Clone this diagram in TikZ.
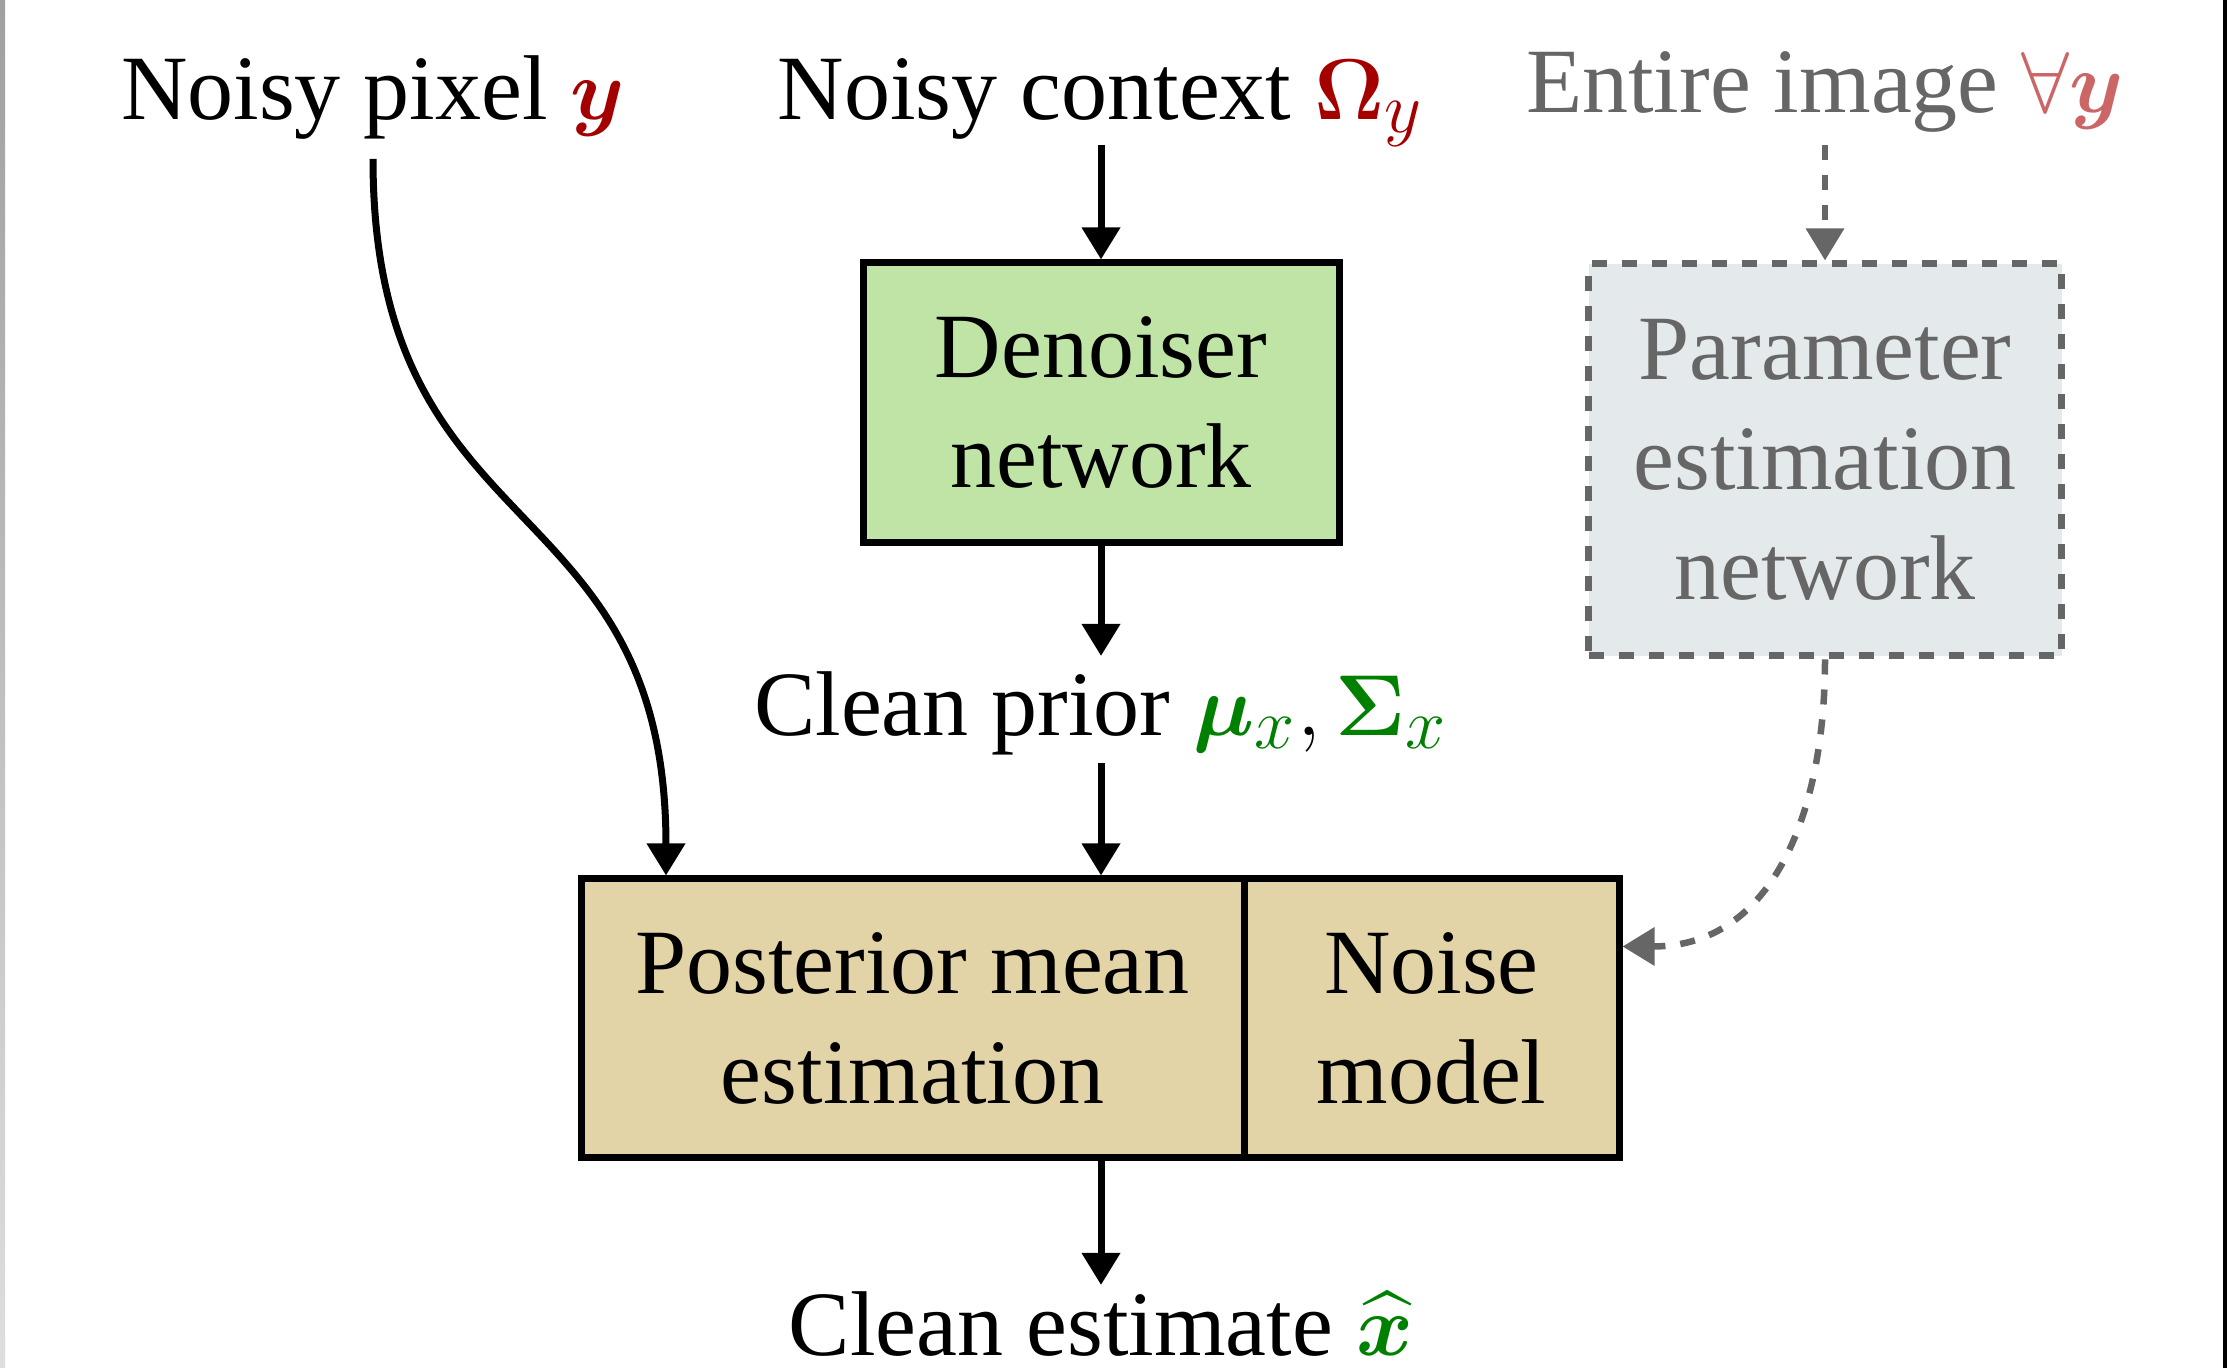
\documentclass[tikz,border=0pt]{standalone}
\usepackage{amsmath,bm}
\usepackage{fontspec}
\setmainfont{Liberation Serif}
\usetikzlibrary{arrows.meta,calc}
\DeclareMathSizes{18.4}{18.4}{14.7}{11.5}
\definecolor{dred}{RGB}{165,0,0}
\definecolor{dgreen}{RGB}{0,128,0}
\definecolor{tgray}{RGB}{102,102,102}
\definecolor{lred}{RGB}{204,102,102}
\definecolor{gfill}{RGB}{192,228,166}
\definecolor{tfill}{RGB}{227,212,167}
\definecolor{pfill}{RGB}{228,233,235}
\tikzset{
  box/.style={draw, line width=1.4pt, align=center, inner sep=0pt},
  lab/.style={anchor=base, inner sep=0pt},
  arr/.style={-{Triangle[width=7.4pt,length=6.4pt]}, line width=1.4pt},
  darr/.style={-{Triangle[width=7.4pt,length=6.4pt]}, line width=1.3pt, draw=tgray, fill=none, dash pattern=on 3pt off 3pt},
}
\begin{document}
\begin{tikzpicture}[x=0.2pt, y=-0.2pt, font=\fontsize{18.4}{22}\selectfont]
\useasboundingbox (0,0) rectangle (2227,1368);
\fill[white] (0,0) rectangle (2227,1368);
\shade[top color={rgb,255:red,160;green,160;blue,160}, bottom color={rgb,255:red,222;green,222;blue,222}] (0,0) rectangle (5,1368);
\fill[black] (2223,0) rectangle (2227,1368);

\node[lab] (npix) at (373,120) {Noisy pixel $\color{dred}\boldsymbol{y}$};
\node[lab] (ctx) at (1101,120) {Noisy context ${\color{dred}\boldsymbol{\Omega}_y}$};
\node[lab, text=tgray] (ent) at (1825,113) {Entire image ${\color{lred}\forall\boldsymbol{y}}$};

\node[box, fill=gfill, minimum width=95.2pt, minimum height=56pt] (den) at (1101,403) {Denoiser\\network};
\node[box, fill=pfill, draw=tgray, text=tgray, dash pattern=on 3pt off 3pt, minimum width=94.6pt, minimum height=78.4pt] (par) at (1825,460) {Parameter\\estimation\\network};

\node[lab] (prior) at (1101,736) {Clean prior ${\color{dgreen}\boldsymbol{\mu}_x}, {\color{dgreen}\boldsymbol{\Sigma}_x}$};

\node[box, fill=tfill, minimum width=132.6pt, minimum height=55.8pt] (post) at (912.5,1018.5) {Posterior mean\\estimation};
\node[box, fill=tfill, minimum width=75pt, minimum height=55.8pt] (noise) at (1431.5,1018.5) {Noise\\model};

\node[lab] (est) at (1101,1356) {Clean estimate ${\color{dgreen}\widehat{\boldsymbol{x}}}$};

\draw[arr] ([yshift=-5pt]ctx.base) -- (den.north);
\draw[arr] (den.south) -- ([yshift=16pt]prior.base);
\draw[arr] ([yshift=-5.4pt]prior.base) -- (post.north -| den.south);
\draw[arr] (post.south -| den.south) -- ([yshift=14.2pt]est.base);
\draw[arr] ([yshift=-7.8pt]npix.base) to[out=-90, in=90, looseness=1.3] ([xshift=17.7pt]post.north west);
\draw[darr] ([yshift=-6.4pt]ent.base) -- (par.north);
\draw[darr] (par.south) to[out=-90, in=0, looseness=1.1] ([yshift=-14.2pt]noise.north east);
\end{tikzpicture}
\end{document}
